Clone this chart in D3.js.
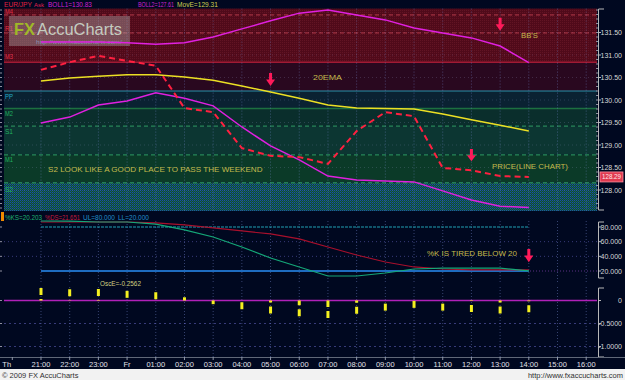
<!DOCTYPE html>
<html><head><meta charset="utf-8">
<script src="https://cdn.jsdelivr.net/npm/d3@7"></script>
<style>body{margin:0;background:#000820;}svg{display:block}</style>
</head><body>
<svg id="c" width="625" height="380"></svg>
<script>
// ---------- DATA ----------
const timeLabels = ["Th","21:00","22:00","23:00","Fr","01:00","02:00","03:00","04:00","05:00","06:00","07:00","08:00","09:00","10:00","11:00","12:00","13:00","14:00","15:00","16:00"];
const dataHours = ["21:00","22:00","23:00","Fr","01:00","02:00","03:00","04:00","05:00","06:00","07:00","08:00","09:00","10:00","11:00","12:00","13:00","14:00"];
const upperBB = [131.29,131.29,131.29,131.27,131.24,131.27,131.40,131.58,131.76,131.93,132.00,131.89,131.78,131.60,131.49,131.38,131.20,130.83];
const ema20   = [130.42,130.49,130.53,130.56,130.56,130.51,130.44,130.31,130.18,130.04,129.89,129.82,129.81,129.80,129.69,129.56,129.44,129.31];
const lowerBB = [129.49,129.62,129.89,129.98,130.16,130.04,129.87,129.40,128.98,128.67,128.31,128.22,128.20,128.18,127.98,127.78,127.64,127.61];
const price   = [130.67,130.84,130.98,130.87,130.76,129.82,129.73,128.93,128.76,128.73,128.58,129.31,129.73,129.64,128.49,128.44,128.31,128.29];
const pctK    = [88.2,88.0,86.8,86.8,84.0,76.0,66.4,52.7,37.7,25.5,13.2,13.2,17.3,22.7,24.0,24.0,24.0,20.203];
const pctD    = [86.8,86.8,86.8,86.8,85.5,82.8,78.7,74.6,70.5,63.7,52.7,41.8,32.3,25.5,22.7,21.4,21.4,21.651];
const oscE    = [0.27,0.245,0.25,0.21,0.18,0.07,-0.08,-0.19,-0.28,-0.34,-0.38,-0.29,-0.22,-0.16,-0.22,-0.25,-0.28,-0.2562];
const priceTicks = [128.0,128.5,129.0,129.5,130.0,130.5,131.0,131.5];
const stochTicks = [20,40,60,80];
const oscTicks = [0,-0.5,-1.0];
const pivotNames  = ["M4","R1","M3","PP","M2","S1","M1","S2"];
const pivotLevels = [131.89,131.49,130.84,130.20,129.81,129.42,128.78,128.16];
const upperLimit = 80, lowerLimit = 20;

// ---------- SCALES ----------
const svg = d3.select("#c");
const x  = d3.scaleLinear().domain([0,20]).range([12.3,586.2]);
const yM = d3.scaleLinear().domain([128,131.5]).range([190,32.5]);
const yS = d3.scaleLinear().domain([20,80]).range([271,227]);
const yO = d3.scaleLinear().domain([0,-1]).range([300.5,346.5]);
const L = 4, R = 597;
const mainTop = 8.6, mainBot = 211;
const hx = h => x(timeLabels.indexOf(h));
const font = "'Liberation Sans', Arial, sans-serif";

// text helper: optional target width applied through a horizontal scale transform
function txt(xp, yp, s, size, fill, w, anchor, weight){
  const t = svg.append("text").attr("x",0).attr("y",0).text(s)
    .attr("font-family",font).attr("font-size",size).attr("fill",fill);
  if (anchor) t.attr("text-anchor",anchor);
  if (weight) t.attr("font-weight",weight);
  let sx = 1;
  if (w) { const nat = t.node().getComputedTextLength(); if (nat>0) sx = w/nat; }
  t.attr("transform",`translate(${xp},${yp}) scale(${sx},1)`);
  return t;
}

// ---------- BACKGROUND ----------
svg.append("rect").attr("width",625).attr("height",380).attr("fill","#000820");
svg.append("rect").attr("x",0).attr("y",369).attr("width",625).attr("height",11).attr("fill","#f2f2f2");

const defs = svg.append("defs");
const pat = defs.append("pattern").attr("id","dots").attr("width",2).attr("height",2).attr("patternUnits","userSpaceOnUse");
pat.append("rect").attr("width",2).attr("height",2).attr("fill","#0e3e46");
pat.append("rect").attr("width",1).attr("height",1).attr("fill","#1a5c9c");
pat.append("rect").attr("x",1).attr("y",1).attr("width",1).attr("height",1).attr("fill","#166a4c");
const pat2 = defs.append("pattern").attr("id","red").attr("width",2).attr("height",2).attr("patternUnits","userSpaceOnUse");
pat2.append("rect").attr("width",2).attr("height",2).attr("fill","#500a1a");
pat2.append("rect").attr("width",1).attr("height",1).attr("fill","#621424");

// zones
const edges = [yM.invert(mainTop), pivotLevels[2], pivotLevels[3], pivotLevels[4], pivotLevels[5], pivotLevels[6], pivotLevels[7], yM.invert(mainBot)];
const zoneFill = ["url(#red)","#29081f","#0a2232","#0a2e2c","#0c3632","#0b3a28","url(#dots)"];
for (let i=0;i<zoneFill.length;i++){
  svg.append("rect").attr("x",L).attr("width",R-L)
    .attr("y",yM(edges[i])).attr("height",yM(edges[i+1])-yM(edges[i])).attr("fill",zoneFill[i]);
}

// price gridlines
svg.selectAll(".hg").data(priceTicks).join("line")
  .attr("x1",L).attr("x2",R).attr("y1",d=>yM(d)).attr("y2",d=>yM(d))
  .attr("stroke","rgba(160,160,210,0.22)").attr("stroke-dasharray","1,3");

// pivot lines
const pivStroke = ["#b23a4a","#b23a4a","#a01a34","#2a90a8","#1c7040","#2f9c64","#2f9c64","#2f9c64"];
const pivDash = ["4,3","4,3",null,null,null,"4,3","4,3","4,3"];
const pivW = [1,1,1.5,1,1.5,1,1,1];
pivotLevels.forEach((v,i)=>{
  svg.append("line").attr("x1",L).attr("x2",R).attr("y1",yM(v)).attr("y2",yM(v))
    .attr("stroke",pivStroke[i]).attr("stroke-width",pivW[i]).attr("stroke-dasharray",pivDash[i]);
});
const pivLabelCol = ["#e03048","#e03048","#e03048","#22a8c8","#22b060","#22b060","#22b060","#22b060"];
const pivLabelDy = [-0.5,-2,-3,7.5,7.5,8,7.5,9];
pivotLevels.forEach((v,i)=>{
  txt(5, yM(v)+pivLabelDy[i], pivotNames[i], 7, pivLabelCol[i], 8);
});

// vertical grid
const vIdx = d3.range(1,21);
[[mainTop,mainBot],[221,283],[287,357]].forEach(([a,b])=>{
  svg.append("g").selectAll("line").data(vIdx).join("line")
    .attr("x1",d=>x(d)).attr("x2",d=>x(d)).attr("y1",a).attr("y2",b)
    .attr("stroke","rgba(120,140,210,0.45)").attr("stroke-dasharray","1,2");
});

// watermark
svg.append("rect").attr("x",9).attr("y",16).attr("width",121).attr("height",30).attr("fill","rgba(175,170,170,0.42)");
txt(14, 35, "FX", 16, "#a0b828", 21, null, "bold");
txt(37, 35, "AccuCharts", 16, "#c4ccc0", 85);
txt(36, 44, "http://www.fxaccucharts.com/", 5, "#8890b0", 86);

// ---------- MAIN LINES ----------
const lineM = d3.line().x((d,i)=>hx(dataHours[i])).y(d=>yM(d));
svg.append("path").attr("d",lineM(upperBB)).attr("fill","none").attr("stroke","#e020e0").attr("stroke-width",1.5);
svg.append("path").attr("d",lineM(lowerBB)).attr("fill","none").attr("stroke","#e020e0").attr("stroke-width",1.5);
svg.append("path").attr("d",lineM(ema20)).attr("fill","none").attr("stroke","#ece024").attr("stroke-width",1.5);
svg.append("path").attr("d",lineM(price)).attr("fill","none").attr("stroke","#ff2040").attr("stroke-width",2).attr("stroke-dasharray","6,4");

// ---------- TITLE ----------
txt(4, 6.5, "EUR/JPY", 7, "#e02040", 28);
txt(34, 6.5, "Ask", 5.5, "#e02050", 10);
txt(48, 6.5, "BOLL1=" + upperBB[upperBB.length-1].toFixed(2), 7, "#d020d0", 44);
txt(138, 6.5, "BOLL2=" + lowerBB[lowerBB.length-1].toFixed(2), 7, "#d020d0", 36);
txt(177, 6.5, "MovE=" + ema20[ema20.length-1].toFixed(2), 7, "#d0d050", 41);

// ---------- RIGHT AXES ----------
const axCol = "#d8d8d8";
function axisBox(y1,y2){
  svg.append("path").attr("d",`M604,${y1}H598.5V${y2}H604`).attr("fill","none").attr("stroke","#b8b8b8");
}
axisBox(9,210); axisBox(222,278); axisBox(288,357);
const minor = d3.range(127.6,132.01,0.1);
svg.append("g").selectAll("line").data(minor).join("line")
  .attr("x1",596).attr("x2",598).attr("y1",d=>yM(d)).attr("y2",d=>yM(d)).attr("stroke","#9090a0");
svg.append("g").selectAll("line").data(minor).join("line")
  .attr("x1",0).attr("x2",2).attr("y1",d=>yM(d)).attr("y2",d=>yM(d)).attr("stroke","#9090a0");
svg.append("g").selectAll("text").data(priceTicks).join("text")
  .attr("x",622).attr("y",d=>yM(d)+2.5).attr("text-anchor","end").text(d=>d.toFixed(2))
  .attr("font-family",font).attr("font-size",7).attr("fill",axCol);
svg.append("g").selectAll("line").data(priceTicks).join("line")
  .attr("x1",598).attr("x2",601).attr("y1",d=>yM(d)).attr("y2",d=>yM(d)).attr("stroke","#b8b8b8");
svg.append("g").selectAll("text").data(stochTicks).join("text")
  .attr("x",622).attr("y",d=>yS(d)+2.5).attr("text-anchor","end").text(d=>d.toFixed(3))
  .attr("font-family",font).attr("font-size",7).attr("fill",axCol);
svg.append("g").selectAll("line").data(stochTicks).join("line")
  .attr("x1",598).attr("x2",601).attr("y1",d=>yS(d)).attr("y2",d=>yS(d)).attr("stroke","#b8b8b8");
svg.append("g").selectAll("line").data(stochTicks).join("line")
  .attr("x1",0).attr("x2",2).attr("y1",d=>yS(d)).attr("y2",d=>yS(d)).attr("stroke","#9090a0");
svg.append("g").selectAll("text").data(oscTicks).join("text")
  .attr("x",622).attr("y",d=>yO(d)+2.5).attr("text-anchor","end").text(d=>d===0?"0":d.toFixed(4))
  .attr("font-family",font).attr("font-size",7).attr("fill",axCol);
svg.append("g").selectAll("line").data(oscTicks).join("line")
  .attr("x1",598).attr("x2",601).attr("y1",d=>yO(d)).attr("y2",d=>yO(d)).attr("stroke","#b8b8b8");
svg.append("g").selectAll("line").data(oscTicks).join("line")
  .attr("x1",0).attr("x2",2).attr("y1",d=>yO(d)).attr("y2",d=>yO(d)).attr("stroke","#9090a0");

// current price box
const lastP = price[price.length-1];
svg.append("rect").attr("x",600).attr("y",yM(lastP)-5).attr("width",23).attr("height",10)
  .attr("fill","#e03a50").attr("stroke","#ff90a0").attr("stroke-width",0.8);
txt(611.5, yM(lastP)+2.5, lastP.toFixed(2), 6.5, "#ffe8e8", 19, "middle");

// ---------- STOCHASTIC ----------
svg.append("rect").attr("x",1).attr("y",212).attr("width",3).attr("height",9).attr("fill","#f08a00");
txt(5, 220, "%KS=" + pctK[pctK.length-1].toFixed(3), 7.5, "#1fb070", 37);
txt(45, 220, "%DS=" + pctD[pctD.length-1].toFixed(3), 7.5, "#c0183c", 35);
txt(83, 220, "UL=" + upperLimit.toFixed(3), 7.5, "#2090c8", 32);
txt(118, 220, "LL=" + lowerLimit.toFixed(3), 7.5, "#2090c8", 31);

svg.append("g").selectAll("line").data([40,60]).join("line")
  .attr("x1",L).attr("x2",R).attr("y1",d=>yS(d)).attr("y2",d=>yS(d))
  .attr("stroke","rgba(110,110,210,0.5)").attr("stroke-dasharray","1,3");
svg.append("line").attr("x1",hx(dataHours[0])).attr("x2",R).attr("y1",yS(lowerLimit)).attr("y2",yS(lowerLimit))
  .attr("stroke","rgba(150,80,200,0.6)").attr("stroke-dasharray","1,2");
const x0 = hx(dataHours[0]), x1 = hx(dataHours[dataHours.length-1]);
svg.append("line").attr("x1",x0).attr("x2",x1).attr("y1",yS(upperLimit)).attr("y2",yS(upperLimit))
  .attr("stroke","#20a0b4").attr("stroke-width",1).attr("stroke-dasharray","3,1");
svg.append("line").attr("x1",x0).attr("x2",x1).attr("y1",yS(lowerLimit)).attr("y2",yS(lowerLimit))
  .attr("stroke","#1e6cc0").attr("stroke-width",2);
const lineS = d3.line().x((d,i)=>hx(dataHours[i])).y(d=>yS(d));
svg.append("path").attr("d",lineS(pctD)).attr("fill","none").attr("stroke","#a8102c").attr("stroke-width",1.2);
svg.append("path").attr("d",lineS(pctK)).attr("fill","none").attr("stroke","#14a878").attr("stroke-width",1.2);

// ---------- OSCILLATOR ----------
svg.append("g").selectAll("line").data([-0.5,-1]).join("line")
  .attr("x1",L).attr("x2",R).attr("y1",d=>yO(d)).attr("y2",d=>yO(d))
  .attr("stroke","rgba(110,110,210,0.5)").attr("stroke-dasharray","2,3");
svg.append("line").attr("x1",L).attr("x2",R).attr("y1",yO(0)).attr("y2",yO(0)).attr("stroke","#b020b8").attr("stroke-width",1.3);
svg.append("g").selectAll("line").data(oscE).join("line")
  .attr("x1",(d,i)=>hx(dataHours[i])).attr("x2",(d,i)=>hx(dataHours[i]))
  .attr("y1",d=>yO(d)).attr("y2",yO(0))
  .attr("stroke","#f4f020").attr("stroke-width",3).attr("stroke-dasharray","7,4");
txt(100, 286, "OscE=" + oscE[oscE.length-1].toFixed(4), 7.5, "#d0d080", 41);

// ---------- X AXIS ----------
svg.append("line").attr("x1",0).attr("x2",625).attr("y1",357.5).attr("y2",357.5).attr("stroke","#606878");
svg.append("g").selectAll("line").data(d3.range(0,21)).join("line")
  .attr("x1",d=>x(d)).attr("x2",d=>x(d)).attr("y1",357).attr("y2",360).attr("stroke","#9098a8");
svg.append("g").selectAll("text").data(timeLabels).join("text")
  .attr("x",(d,i)=>i===0?x(0)-10:x(i)).attr("y",367)
  .attr("text-anchor",(d,i)=>i===0?"start":"middle").text(d=>d)
  .attr("font-family",font).attr("font-size",7.5).attr("fill","#e0e0e8");
txt(2, 378, "© 2009 FX AccuCharts", 7.5, "#303030");
txt(623, 378, "http://www.fxaccucharts.com", 7.5, "#303030", null, "end");

// ---------- ANNOTATIONS ----------
const arrows = [
  {h:"13:00", top:131.83, bot:131.54, sc:yM},
  {h:"05:00", top:130.60, bot:130.31, sc:yM},
  {h:"12:00", top:128.91, bot:128.64, sc:yM},
  {h:"14:00", top:50, bot:32, sc:yS}
];
arrows.forEach(a=>{
  const ax = hx(a.h), t = a.sc(a.top), b = a.sc(a.bot), mid = t + (b-t)*0.5;
  svg.append("path").attr("d",`M${ax-1.5},${t}H${ax+1.5}V${mid}H${ax+4.5}L${ax},${b}L${ax-4.5},${mid}H${ax-1.5}Z`).attr("fill","#ff1a5a");
});
const notes = [
  {t:"BB'S", x:521, y:38, w:17},
  {t:"20EMA", x:313, y:80, w:29},
  {t:"PRICE(LINE CHART)", x:492, y:169, w:76},
  {t:"S2 LOOK LIKE A GOOD PLACE TO PASS THE WEEKEND", x:48, y:172, w:215},
  {t:"%K IS TIRED BELOW 20", x:427, y:256, w:90}
];
notes.forEach(n=> txt(n.x, n.y, n.t, 8, "#c4ba4c", n.w));
</script>
</body></html>
